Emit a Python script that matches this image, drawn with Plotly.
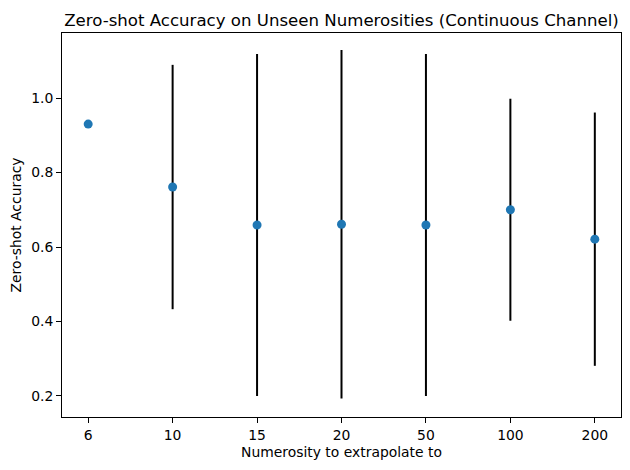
import plotly.graph_objects as go

categories = ["6", "10", "15", "20", "50", "100", "200"]
accuracy = [0.93, 0.761, 0.659, 0.661, 0.659, 0.70, 0.621]
errors = [0.0, 0.328, 0.459, 0.468, 0.459, 0.298, 0.34]
y_ticks = [0.2, 0.4, 0.6, 0.8, 1.0]

font_family = "DejaVu Sans"

fig = go.Figure()
fig.add_trace(go.Scatter(
    x=categories,
    y=accuracy,
    mode="markers",
    marker=dict(color="#1f77b4", size=9),
    error_y=dict(type="data", array=errors, visible=True, color="black", thickness=2, width=0),
    showlegend=False,
))

fig.update_layout(
    width=622,
    height=462,
    margin=dict(l=54, r=9, t=25, b=53),
    plot_bgcolor="white",
    paper_bgcolor="white",
    font=dict(family=font_family, size=13.9, color="black"),
    title=dict(
        text="Zero-shot Accuracy on Unseen Numerosities (Continuous Channel)",
        x=0.5, xref="paper", xanchor="center",
        y=1 - 12 / 462, yref="container", yanchor="middle",
        font=dict(family=font_family, size=16.6, color="black"),
    ),
)

fig.update_xaxes(
    type="category",
    range=[-0.31, 6.31],
    showgrid=False,
    zeroline=False,
    showline=True, linecolor="black", linewidth=1, mirror=True,
    ticks="outside", ticklen=5, tickcolor="black", tickwidth=1,
    tickfont=dict(size=13.9),
    automargin=False,
    title=dict(text="Numerosity to extrapolate to", font=dict(size=13.9), standoff=5),
)
fig.update_yaxes(
    range=[0.1436, 1.1745],
    tickvals=y_ticks,
    tickformat=".1f",
    showgrid=False,
    zeroline=False,
    showline=True, linecolor="black", linewidth=1, mirror=True,
    ticks="outside", ticklen=5, tickcolor="black", tickwidth=1,
    tickfont=dict(size=13.9),
    automargin=False,
    title=dict(text="Zero-shot Accuracy", font=dict(size=13.9), standoff=7),
)

fig.write_html("out.html")
